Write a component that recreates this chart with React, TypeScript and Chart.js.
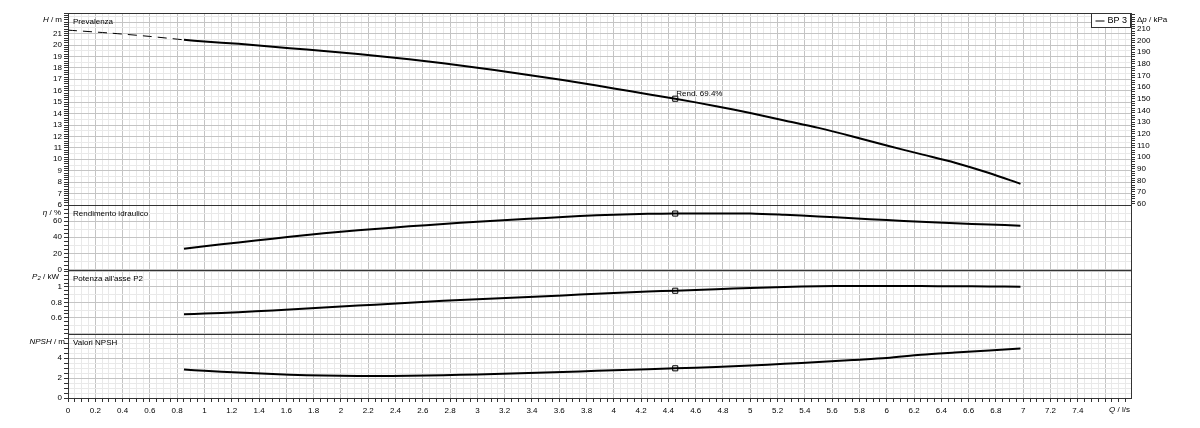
import React, { useEffect, useRef } from 'react';
import { Chart, registerables } from 'chart.js';

Chart.register(...registerables);

// ---------- data ----------
const flowQ = [0.85, 1, 1.25, 1.5, 1.75, 2, 2.25, 2.5, 2.75, 3, 3.25, 3.5, 3.75, 4, 4.25, 4.45, 4.75, 5, 5.25, 5.5, 5.75, 6, 6.25, 6.5, 6.75, 6.98];
const headH = [20.45, 20.3, 20.1, 19.85, 19.6, 19.35, 19.05, 18.75, 18.4, 18.0, 17.6, 17.15, 16.7, 16.2, 15.7, 15.3, 14.65, 14.05, 13.4, 12.75, 12.0, 11.2, 10.45, 9.7, 8.8, 7.85];
const efficiencyEta = [25.6, 28.8, 33.5, 38.2, 42.8, 46.9, 50.3, 53.5, 56.5, 59.3, 61.8, 64.0, 66.3, 68.0, 69.1, 69.4, 69.6, 69.4, 67.8, 65.8, 63.6, 61.3, 59.3, 57.4, 55.8, 54.4];
const powerP2 = [0.645, 0.655, 0.672, 0.695, 0.72, 0.745, 0.77, 0.795, 0.82, 0.84, 0.86, 0.88, 0.9, 0.92, 0.94, 0.95, 0.97, 0.985, 1.0, 1.008, 1.011, 1.012, 1.01, 1.008, 1.005, 1.002];
const npshValues = [2.85, 2.72, 2.55, 2.4, 2.28, 2.22, 2.2, 2.22, 2.28, 2.36, 2.45, 2.55, 2.66, 2.77, 2.88, 2.97, 3.1, 3.25, 3.42, 3.6, 3.8, 4.0, 4.32, 4.55, 4.76, 4.95];

const shutoffQ = [0, 0.3, 0.6, 0.85];
const shutoffH = [21.3, 21.05, 20.75, 20.45];

const dutyQ = 4.45;
const dutyH = 15.3;
const dutyEta = 69.4;
const dutyP2 = 0.95;
const dutyNpsh = 2.97;
const dutyLabel = 'Rend. 69.4%';
const seriesName = 'BP 3';
const kPaPerMetre = 9.807;

const panelTitles = ['Prevalenza', 'Rendimento idraulico', "Potenza all'asse P2", 'Valori NPSH'];

const qRange = [0, 7.79];
const hRange = [6, 22.8];
const etaRange = [0, 80];
const p2Range = [0.39, 1.225];
const npshRange = [0, 6.4];

const qLabelStep = 0.2;
const qLastLabel = 7.4;
const hTickLabels = [6, 7, 8, 9, 10, 11, 12, 13, 14, 15, 16, 17, 18, 19, 20, 21];
const etaTickLabels = [0, 20, 40, 60];
const p2TickLabels = [0.6, 0.8, 1];
const npshTickLabels = [0, 2, 4];
const kPaTickLabels = [60, 70, 80, 90, 100, 110, 120, 130, 140, 150, 160, 170, 180, 190, 200, 210];

// ---------- helpers ----------
const FAMILY = '"Liberation Sans", Arial, Helvetica, sans-serif';
const MAJOR = '#c4c4c4';
const MINOR = '#e9e9e9';
const NONE = 'rgba(0,0,0,0)';
const TICK = '#333';

const isMult = (v: number, s: number) => Math.abs(v / s - Math.round(v / s)) < 1e-6;
const inList = (v: number, list: number[]) => list.some((l) => Math.abs(l - v) < 1e-6);
const fmt = (v: number) => String(Math.round(v * 1000) / 1000);
const pts = (xs: number[], ys: number[]) => xs.map((x, i) => ({ x, y: ys[i] }));

type Part = { t: string; it?: boolean; sub?: boolean };

function drawRich(ctx: CanvasRenderingContext2D, parts: Part[], x: number, y: number, align: 'left' | 'right') {
  const fontFor = (p: Part) => `${p.it ? 'italic ' : ''}${p.sub ? 6 : 8}px ${FAMILY}`;
  const widths = parts.map((p) => {
    ctx.font = fontFor(p);
    return ctx.measureText(p.t).width;
  });
  const total = widths.reduce((a, b) => a + b, 0);
  let cx = align === 'right' ? x - total : x;
  ctx.textAlign = 'left';
  ctx.textBaseline = 'middle';
  parts.forEach((p, i) => {
    ctx.font = fontFor(p);
    ctx.fillText(p.t, cx, y + (p.sub ? 2 : 0));
    cx += widths[i];
  });
}

const decorPlugin = {
  id: 'pumpDecor',
  afterDraw(chart: any) {
    const ctx: CanvasRenderingContext2D = chart.ctx;
    const area = chart.chartArea;
    const ids = ['yH', 'yEta', 'yP', 'yN'];
    ctx.save();
    // panel frames
    ctx.strokeStyle = '#333';
    ctx.lineWidth = 1;
    ids.forEach((id) => {
      const s = chart.scales[id];
      const top = Math.round(s.top) + 0.5;
      const bottom = Math.round(s.bottom) + 0.5;
      ctx.strokeRect(Math.round(area.left) + 0.5, top, Math.round(area.right) - Math.round(area.left), bottom - top);
    });
    ctx.fillStyle = '#000';
    // panel titles
    ids.forEach((id, i) => {
      const s = chart.scales[id];
      ctx.font = `8px ${FAMILY}`;
      ctx.textAlign = 'left';
      ctx.textBaseline = 'middle';
      ctx.fillText(panelTitles[i], area.left + 5, s.top + 9);
    });
    // axis titles
    const sH = chart.scales.yH, sE = chart.scales.yEta, sP = chart.scales.yP, sN = chart.scales.yN;
    drawRich(ctx, [{ t: 'H', it: true }, { t: ' / m' }], 62, sH.top + 7, 'right');
    drawRich(ctx, [{ t: 'η', it: true }, { t: ' / %' }], 61, sE.top + 8, 'right');
    drawRich(ctx, [{ t: 'P', it: true }, { t: '2', it: true, sub: true }, { t: ' / kW' }], 59, sP.top + 7, 'right');
    drawRich(ctx, [{ t: 'NPSH', it: true }, { t: ' / m' }], 65, sN.top + 8, 'right');
    drawRich(ctx, [{ t: 'Δ' }, { t: 'p', it: true }, { t: ' / kPa' }], area.right + 6, sH.top + 7, 'left');
    drawRich(ctx, [{ t: 'Q', it: true }, { t: ' / l/s' }], area.right - 1, chart.scales.x.top + 12, 'right');
    // duty point label
    const px = chart.scales.x.getPixelForValue(dutyQ);
    const py = sH.getPixelForValue(dutyH);
    ctx.font = `8px ${FAMILY}`;
    ctx.textAlign = 'left';
    ctx.textBaseline = 'alphabetic';
    ctx.fillText(dutyLabel, px + 1, py - 3);
    // legend
    const lx = Math.round(area.right) - 39.5;
    const ly = Math.round(area.top) + 0.5;
    ctx.fillStyle = '#fff';
    ctx.fillRect(lx, ly, 39, 14);
    ctx.strokeStyle = '#333';
    ctx.strokeRect(lx, ly, 39, 14);
    ctx.beginPath();
    ctx.moveTo(lx + 4, ly + 7.5);
    ctx.lineTo(lx + 13, ly + 7.5);
    ctx.strokeStyle = '#000';
    ctx.stroke();
    ctx.fillStyle = '#000';
    ctx.font = `9px ${FAMILY}`;
    ctx.textBaseline = 'middle';
    ctx.fillText(seriesName, lx + 16, ly + 7.5);
    ctx.restore();
  },
};

const tickFont = { family: FAMILY, size: 8 };

function gridFor(major: number, minor: number, tickStep: number) {
  return {
    color: (c: any) => {
      const v = c.tick ? c.tick.value : 0;
      if (isMult(v, major)) return MAJOR;
      if (isMult(v, minor)) return MINOR;
      return NONE;
    },
    tickColor: (c: any) => {
      const v = c.tick ? c.tick.value : 0;
      return isMult(v, tickStep) ? TICK : NONE;
    },
    tickLength: 4,
    lineWidth: 1,
  };
}

function yScale(range: number[], step: number, labels: number[], major: number, minor: number, tickStep: number, weight: number, stackWeight: number) {
  return {
    type: 'linear',
    position: 'left',
    stack: 'left',
    stackWeight,
    weight,
    min: range[0],
    max: range[1],
    afterFit: (s: any) => {
      s.width = 68;
    },
    border: { display: false },
    grid: gridFor(major, minor, tickStep),
    ticks: {
      stepSize: step,
      includeBounds: false,
      autoSkip: false,
      font: tickFont,
      color: '#000',
      padding: 2,
      callback: (v: number) => (inList(v, labels) ? fmt(v) : ''),
    },
  };
}

function dummyRight(weight: number, stackWeight: number) {
  return {
    type: 'linear',
    position: 'right',
    stack: 'right',
    stackWeight,
    weight,
    display: false,
  };
}

export default function App() {
  const canvasRef = useRef<HTMLCanvasElement | null>(null);

  useEffect(() => {
    if (!canvasRef.current) return;
    const lineBase = { pointRadius: 0, borderColor: '#000', fill: false, xAxisID: 'x', tension: 0.3 };
    const marker = (y: number, axis: string) => ({
      type: 'line',
      data: [{ x: dutyQ, y }],
      showLine: false,
      pointStyle: 'rect',
      pointRadius: 3.6,
      pointBackgroundColor: '#fff',
      pointBorderColor: '#000',
      pointBorderWidth: 1,
      xAxisID: 'x',
      yAxisID: axis,
    });
    const chart = new Chart(canvasRef.current, {
      type: 'line',
      data: {
        datasets: [
          { ...lineBase, data: pts(shutoffQ, shutoffH), yAxisID: 'yH', borderWidth: 1, borderDash: [9, 6] },
          { ...lineBase, data: pts(flowQ, headH), yAxisID: 'yH', borderWidth: 2 },
          { ...lineBase, data: pts(flowQ, efficiencyEta), yAxisID: 'yEta', borderWidth: 2 },
          { ...lineBase, data: pts(flowQ, powerP2), yAxisID: 'yP', borderWidth: 2 },
          { ...lineBase, data: pts(flowQ, npshValues), yAxisID: 'yN', borderWidth: 2 },
          marker(dutyH, 'yH'),
          marker(dutyEta, 'yEta'),
          marker(dutyP2, 'yP'),
          marker(dutyNpsh, 'yN'),
        ] as any,
      },
      options: {
        responsive: false,
        animation: false,
        events: [],
        layout: { padding: { top: 13, left: 0, right: 0, bottom: 0 } },
        plugins: { legend: { display: false }, tooltip: { enabled: false }, title: { display: false } },
        scales: {
          x: {
            type: 'linear',
            position: 'bottom',
            min: qRange[0],
            max: qRange[1],
            afterFit: (s: any) => {
              s.height = 30;
            },
            border: { display: false },
            grid: gridFor(0.2, 0.05, 0.05),
            ticks: {
              stepSize: 0.05,
              includeBounds: false,
              autoSkip: false,
              maxRotation: 0,
              minRotation: 0,
              font: tickFont,
              color: '#000',
              padding: 4,
              callback: (v: number) => (isMult(v, qLabelStep) && v <= qLastLabel + 1e-6 ? fmt(v) : ''),
            },
          },
          yH: yScale(hRange, 0.1, hTickLabels, 1, 0.5, 0.2, 4, 192),
          yEta: yScale(etaRange, 5, etaTickLabels, 20, 10, 5, 3, 64.5),
          yP: yScale(p2Range, 0.05, p2TickLabels, 0.2, 0.1, 0.05, 2, 64.5),
          yN: yScale(npshRange, 0.5, npshTickLabels, 2, 0.5, 0.5, 1, 64),
          yKPa: {
            type: 'linear',
            position: 'right',
            stack: 'right',
            stackWeight: 192,
            weight: 1,
            min: hRange[0] * kPaPerMetre,
            max: hRange[1] * kPaPerMetre,
            afterFit: (s: any) => {
              s.width = 69;
            },
            border: { display: false },
            grid: { drawOnChartArea: false, tickColor: TICK, tickLength: 4 },
            ticks: {
              stepSize: 2,
              includeBounds: false,
              autoSkip: false,
              font: tickFont,
              color: '#000',
              padding: 2,
              callback: (v: number) => (inList(v, kPaTickLabels) ? fmt(v) : ''),
            },
          },
          r2: dummyRight(2, 64.5),
          r3: dummyRight(3, 64.5),
          r4: dummyRight(4, 64),
        } as any,
      },
      plugins: [decorPlugin],
    });
    return () => chart.destroy();
  }, []);

  return (
    <div style={{ position: 'absolute', left: 0, top: 0, width: 1200, height: 428, background: '#fff' }}>
      <canvas ref={canvasRef} width={1200} height={428} />
    </div>
  );
}
